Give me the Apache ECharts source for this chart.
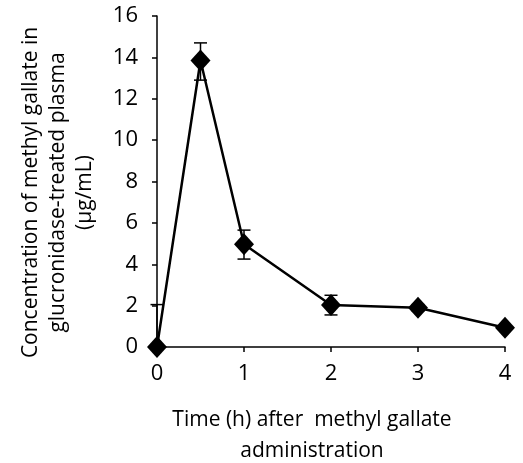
<!DOCTYPE html>
<html>
<head>
<meta charset="utf-8">
<script src="https://cdn.jsdelivr.net/npm/echarts@6/dist/echarts.min.js"></script>
<style>
  html, body { margin: 0; padding: 0; background: #fff; }
  #chart { width: 523px; height: 463px; }
</style>
</head>
<body>
<div id="chart"></div>
<script>
// Mean concentration with error bars
var times = [0, 0.5, 1, 2, 3, 4];
var conc = [0, 13.85, 4.97, 2.03, 1.9, 0.93];
var errHigh = [2.05, 14.7, 5.65, 2.5, 2.05, 1.0];
var errLow = [0, 12.9, 4.25, 1.55, 1.75, 0.86];

var FONT = 'Open Sans';

var chart = echarts.init(document.getElementById('chart'));

var lineData = times.map(function (t, i) { return [t, conc[i]]; });
var errData = times.map(function (t, i) { return [t, errLow[i], errHigh[i]]; });

chart.setOption({
    animation: false,
    backgroundColor: '#fff',
    grid: { left: 157, right: 18, top: 16, bottom: 116, containLabel: false, outerBoundsMode: 'none' },
    xAxis: {
        type: 'value',
        min: 0,
        max: 4,
        interval: 1,
        name: 'Time (h) after  methyl gallate\nadministration',
        nameLocation: 'middle',
        nameGap: 58,
        nameTextStyle: { fontFamily: FONT, fontSize: 21, color: '#000', lineHeight: 31, padding: [0, 38, 0, 0] },
        axisLine: { lineStyle: { color: '#000', width: 1.5 } },
        axisTick: { show: true, inside: false, length: 5, lineStyle: { color: '#000', width: 1.5 } },
        axisLabel: { fontFamily: FONT, fontSize: 22, color: '#000', margin: 16 },
        splitLine: { show: false }
    },
    yAxis: {
        type: 'value',
        min: 0,
        max: 16,
        interval: 2,
        name: 'Concentration of methyl gallate in\nglucronidase-treated plasma\n(μg/mL)',
        nameLocation: 'middle',
        nameGap: 58,
        nameRotate: 90,
        nameTextStyle: { fontFamily: FONT, fontSize: 21, color: '#000', lineHeight: 27, padding: [0, 22, 0, 0] },
        axisLine: { show: true, lineStyle: { color: '#000', width: 1.5 } },
        axisTick: { show: true, inside: false, length: 5, lineStyle: { color: '#000', width: 1.5 } },
        axisLabel: { fontFamily: FONT, fontSize: 22, color: '#000', margin: 19 },
        splitLine: { show: false }
    },
    series: [
        {
            // error bars
            type: 'custom',
            data: errData,
            z: 2,
            renderItem: function (params, api) {
                var x = api.value(0);
                var lo = api.coord([x, api.value(1)]);
                var hi = api.coord([x, api.value(2)]);
                var hw = 6.5;
                var style = { stroke: '#000', lineWidth: 1.5 };
                return {
                    type: 'group',
                    children: [
                        { type: 'line', shape: { x1: lo[0], y1: lo[1], x2: hi[0], y2: hi[1] }, style: style },
                        { type: 'line', shape: { x1: hi[0] - hw, y1: hi[1], x2: hi[0] + hw, y2: hi[1] }, style: style },
                        { type: 'line', shape: { x1: lo[0] - hw, y1: lo[1], x2: lo[0] + hw, y2: lo[1] }, style: style }
                    ]
                };
            }
        },
        {
            type: 'line',
            data: lineData,
            symbol: 'diamond',
            symbolSize: [20, 22],
            z: 3,
            lineStyle: { color: '#000', width: 2.5 },
            itemStyle: { color: '#000' }
        }
    ]
});
</script>
</body>
</html>
